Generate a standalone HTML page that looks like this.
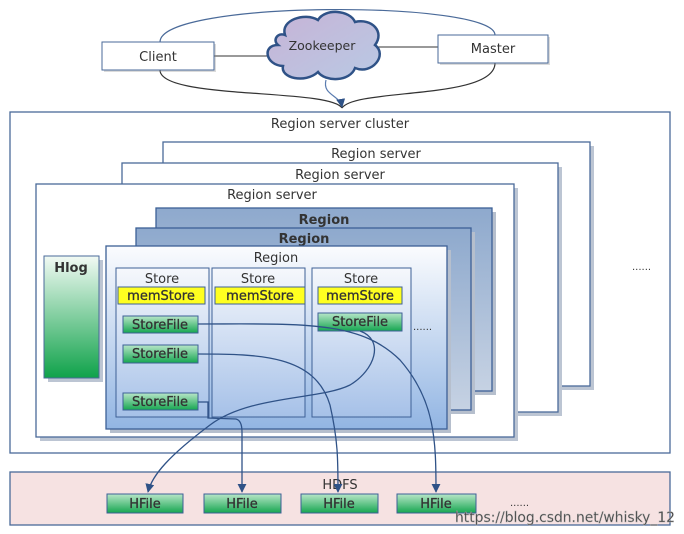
<!DOCTYPE html>
<html><head><meta charset="utf-8"><style>
html,body{margin:0;padding:0;background:#fff;width:684px;height:534px;overflow:hidden}
text{font-family:"DejaVu Sans","Liberation Sans",sans-serif;fill:#333}
</style></head><body>
<svg width="684" height="534" viewBox="0 0 684 534" xmlns="http://www.w3.org/2000/svg">
<defs>
<linearGradient id="rg" x1="0" y1="0" x2="0" y2="1"><stop offset="0" stop-color="#fbfcfe"/><stop offset="1" stop-color="#92b5e3"/></linearGradient>
<linearGradient id="rb" x1="0" y1="0" x2="0" y2="1"><stop offset="0" stop-color="#8ea9cd"/><stop offset="1" stop-color="#c6d2e3"/></linearGradient>
<linearGradient id="sg" x1="0" y1="0" x2="0" y2="1"><stop offset="0" stop-color="#f6f8fc"/><stop offset="1" stop-color="#a6c1e8"/></linearGradient>
<linearGradient id="gr" x1="0" y1="0" x2="0" y2="1"><stop offset="0" stop-color="#b8e6c8"/><stop offset="1" stop-color="#16a650"/></linearGradient>
<linearGradient id="hl" x1="0" y1="0" x2="0" y2="1"><stop offset="0" stop-color="#f2faf4"/><stop offset="1" stop-color="#0fa24a"/></linearGradient>
<linearGradient id="cl" x1="0" y1="0" x2="1" y2="1"><stop offset="0" stop-color="#c7b3d6"/><stop offset="1" stop-color="#b9c9e4"/></linearGradient>
<marker id="a2" viewBox="0 0 10 10" refX="9" refY="5" markerWidth="9" markerHeight="9" orient="auto" markerUnits="userSpaceOnUse"><path d="M0,0 L10,5 L0,10 Z" fill="#2f5287"/></marker>
</defs>

<!-- top -->
<path d="M160,42 C160,0 495,0 495,35" fill="none" stroke="#4a6a99" stroke-width="1.2"/>
<path d="M160,70 C160,100 330,88 342,108" fill="none" stroke="#333" stroke-width="1.2"/>
<path d="M495,63 C495,100 355,88 342,108" fill="none" stroke="#333" stroke-width="1.2"/>
<line x1="214" y1="56" x2="275" y2="56" stroke="#333"/>
<line x1="375" y1="47" x2="438" y2="47" stroke="#333"/>
<path d="M326,80 C322,95 340,95 342,107" fill="none" stroke="#5a7cb0" stroke-width="1.2" marker-end="url(#a2)"/>
<rect x="104" y="44" width="112" height="28" fill="#888" opacity=".3"/>
<rect x="102" y="42" width="112" height="28" fill="#fff" stroke="#4a6a99"/>
<text x="158" y="61" font-size="13" text-anchor="middle">Client</text>
<rect x="440" y="37" width="110" height="28" fill="#888" opacity=".3"/>
<rect x="438" y="35" width="110" height="28" fill="#fff" stroke="#4a6a99"/>
<text x="493" y="53" font-size="13" text-anchor="middle">Master</text>
<path d="M285,35 C280,20 305,12 318,20 C325,8 350,10 355,22 C372,18 385,32 375,45 C388,55 372,75 355,68 C350,82 325,82 318,72 C305,84 280,78 283,66 C265,65 262,45 278,45 C272,40 278,32 285,35 Z" fill="url(#cl)" stroke="#2f5287" stroke-width="2.5"/>
<text x="322" y="50" font-size="12.5" text-anchor="middle">Zookeeper</text>

<!-- cluster -->
<rect x="10" y="112" width="660" height="341" fill="#fff" stroke="#4a6a99" stroke-width="1.3"/>
<text x="340" y="128" font-size="13" text-anchor="middle">Region server cluster</text>
<text x="632" y="270" font-size="10" fill="#666">......</text>
<rect x="167" y="146" width="427" height="244" fill="#bcc5d3"/>
<rect x="163" y="142" width="427" height="244" fill="#fff" stroke="#4a6a99" stroke-width="1.3"/>
<text x="376" y="158" font-size="13" text-anchor="middle">Region server</text>
<rect x="126" y="167" width="436" height="249" fill="#bcc5d3"/>
<rect x="122" y="163" width="436" height="249" fill="#fff" stroke="#4a6a99" stroke-width="1.3"/>
<text x="340" y="179" font-size="13" text-anchor="middle">Region server</text>
<rect x="40" y="188" width="478" height="253" fill="#bcc5d3"/>
<rect x="36" y="184" width="478" height="253" fill="#fff" stroke="#4a6a99" stroke-width="1.3"/>
<text x="272" y="199" font-size="13" text-anchor="middle">Region server</text>

<rect x="48" y="260" width="55" height="122" fill="#bcc5d3"/>
<rect x="44" y="256" width="55" height="122" fill="url(#hl)" stroke="#4a6a99"/>
<text x="71" y="272" font-size="13" font-weight="bold" text-anchor="middle">Hlog</text>

<rect x="160" y="212" width="336" height="183" fill="#b6bfcd"/>
<rect x="156" y="208" width="336" height="183" fill="url(#rb)" stroke="#3d6096" stroke-width="1.3"/>
<text x="324" y="224" font-size="13" font-weight="bold" text-anchor="middle">Region</text>
<rect x="140" y="232" width="335" height="182" fill="#b6bfcd"/>
<rect x="136" y="228" width="335" height="182" fill="url(#rb)" stroke="#3d6096" stroke-width="1.3"/>
<text x="304" y="243" font-size="13" font-weight="bold" text-anchor="middle">Region</text>
<rect x="110" y="250" width="341" height="183" fill="#b6bfcd"/>
<rect x="106" y="246" width="341" height="183" fill="url(#rg)" stroke="#3d6096" stroke-width="1.3"/>
<text x="276" y="262" font-size="13" text-anchor="middle">Region</text>

<rect x="116" y="268" width="93" height="149" fill="url(#sg)" stroke="#3d6096"/>
<rect x="212" y="268" width="93" height="149" fill="url(#sg)" stroke="#3d6096"/>
<rect x="312" y="268" width="99" height="149" fill="url(#sg)" stroke="#3d6096"/>
<text x="162" y="283" font-size="13" text-anchor="middle">Store</text>
<text x="258" y="283" font-size="13" text-anchor="middle">Store</text>
<text x="361" y="283" font-size="13" text-anchor="middle">Store</text>

<g font-size="13" text-anchor="middle" stroke="#333" stroke-width=".3">
<rect x="118" y="287" width="87" height="17" fill="#ffff20" stroke="#3d6096" stroke-width="1"/><text x="161" y="300">memStore</text>
<rect x="215" y="287" width="90" height="17" fill="#ffff20" stroke="#3d6096" stroke-width="1"/><text x="260" y="300">memStore</text>
<rect x="318" y="287" width="84" height="17" fill="#ffff20" stroke="#3d6096" stroke-width="1"/><text x="360" y="300">memStore</text>
<rect x="123" y="316" width="75" height="17" fill="url(#gr)" stroke="#3d6096" stroke-width="1"/><text x="160" y="329">StoreFile</text>
<rect x="123" y="345" width="75" height="18" fill="url(#gr)" stroke="#3d6096" stroke-width="1"/><text x="160" y="358">StoreFile</text>
<rect x="123" y="393" width="75" height="17" fill="url(#gr)" stroke="#3d6096" stroke-width="1"/><text x="160" y="406">StoreFile</text>
<rect x="318" y="313" width="84" height="18" fill="url(#gr)" stroke="#3d6096" stroke-width="1"/><text x="360" y="326">StoreFile</text>
</g>
<text x="413" y="330" font-size="10" fill="#666">......</text>

<!-- HDFS -->
<rect x="10" y="472" width="660" height="53" fill="#f6e2e2" stroke="#4a6a99" stroke-width="1.3"/>
<text x="340" y="489" font-size="13" text-anchor="middle">HDFS</text>
<g font-size="13" text-anchor="middle" stroke="#333" stroke-width=".3">
<rect x="107" y="494" width="76" height="19" fill="url(#gr)" stroke="#3d6096" stroke-width="1"/><text x="145" y="508">HFile</text>
<rect x="204" y="494" width="77" height="19" fill="url(#gr)" stroke="#3d6096" stroke-width="1"/><text x="242" y="508">HFile</text>
<rect x="301" y="494" width="77" height="19" fill="url(#gr)" stroke="#3d6096" stroke-width="1"/><text x="339" y="508">HFile</text>
<rect x="397" y="494" width="79" height="19" fill="url(#gr)" stroke="#3d6096" stroke-width="1"/><text x="436" y="508">HFile</text>
</g>
<text x="510" y="506" font-size="10" fill="#666">......</text>

<!-- connectors -->
<g fill="none" stroke="#2f5287" stroke-width="1.3">
<path d="M198,324 C300,324 360,320 400,360 C435,400 436,440 436,492" marker-end="url(#a2)"/>
<path d="M198,354 C260,354 315,355 330,405 C338,440 338,460 338,492" marker-end="url(#a2)"/>
<path d="M198,402 L208,402 L208,418 L236,419 C240,420 242,425 242,432 L242,492" marker-end="url(#a2)"/>
<path d="M360,331 C385,340 375,370 350,385 C320,400 250,395 210,425 C170,455 152,475 148,492" marker-end="url(#a2)"/>
</g>

<text x="455" y="522" font-size="14" fill="#f4f4f4" stroke="#aaa" stroke-width=".5" font-family="Liberation Sans" textLength="220" lengthAdjust="spacingAndGlyphs">https://blog.csdn.net/whisky_12</text>
</svg>
</body></html>
